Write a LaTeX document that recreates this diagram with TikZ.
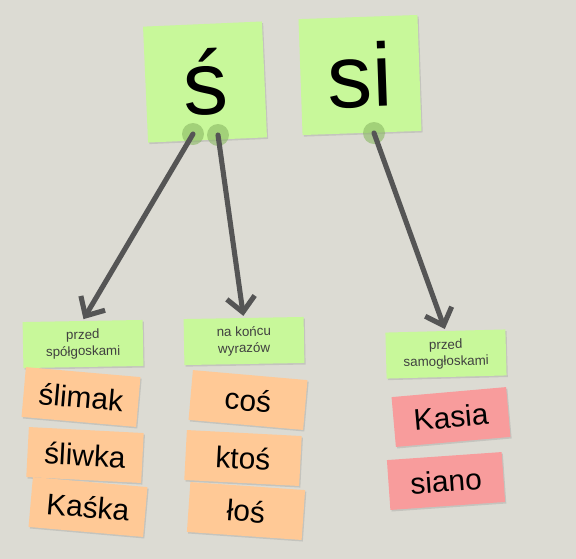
\documentclass[tikz,border=0pt]{standalone}
\usepackage{fontspec}
\setmainfont{Liberation Sans}
\usetikzlibrary{arrows.meta,shadows}
\definecolor{board}{HTML}{DCDBD3}
\definecolor{leaf}{HTML}{C8F89A}
\definecolor{peach}{HTML}{FFC996}
\definecolor{rose}{HTML}{F89C9C}
\definecolor{ink}{HTML}{555555}
\definecolor{pinc}{HTML}{89B863}
\tikzset{
  card/.style={fill=#1, inner sep=0pt, drop shadow={opacity=0.25,shadow xshift=0.7pt,shadow yshift=-0.9pt}},
  big/.style={card=leaf, minimum width=2.38cm, minimum height=2.32cm, font=\fontsize{51}{55}\selectfont},
  tag/.style={card=leaf, minimum width=2.4cm, minimum height=0.92cm, align=center, text=black!75, font=\fontsize{7.6}{9.5}\selectfont},
  word/.style={card=#1, minimum width=2.3cm, minimum height=1.0cm, font=\fontsize{17}{20}\selectfont},
  pin/.style={circle, fill=pinc, fill opacity=0.6, minimum size=0.44cm, inner sep=0pt},
  link/.style={draw=ink, line width=2.9pt, line cap=round, -{Straight Barb[length=8.5pt,width=16pt]}, shorten >=1pt}
}
\begin{document}
\begin{tikzpicture}[x=0.02cm, y=-0.02cm]
  \fill[board] (0,0) rectangle (576,559);
  \useasboundingbox (0,0) rectangle (576,559);

  % main letters
  \node[big, rotate=2.5] (sacute) at (205,82) {ś};
  \node[big, rotate=2] (si) at (360,75) {si};

  % pins on the cards
  \node[pin] (p1) at (193,134) {};
  \node[pin] (p2) at (218,135) {};
  \node[pin] (p3) at (374,133) {};

  % rules
  \node[tag, rotate=1] (t1) at (83,344) {przed\\spółgoskami};
  \node[tag, rotate=1] (t2) at (244,341) {na końcu\\wyrazów};
  \node[tag, rotate=1.5] (t3) at (446,354) {przed\\samogłoskami};

  % examples
  \node[word=peach, rotate=-5] (w1) at (81,397) {ślimak};
  \node[word=peach, rotate=-3] (w2) at (85,455) {śliwka};
  \node[word=peach, rotate=-5] (w3) at (88,507) {Kaśka};
  \node[word=peach, rotate=-5] (w4) at (248,400) {coś};
  \node[word=peach, rotate=-3] (w5) at (243,458) {ktoś};
  \node[word=peach, rotate=-4] (w6) at (246,511) {łoś};
  \node[word=rose, rotate=5] (w7) at (451,417) {Kasia};
  \node[word=rose, rotate=4] (w8) at (446,481) {siano};

  \draw[link] (p1.center) -- (t1.north);
  \draw[link] (p2.center) -- (t2.north);
  \draw[link] (p3.center) -- (t3.north);
\end{tikzpicture}
\end{document}
